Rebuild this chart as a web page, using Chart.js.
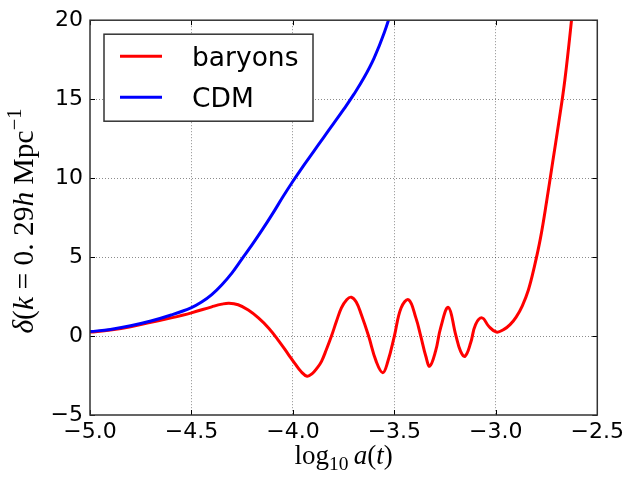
<!DOCTYPE html>
<html>
<head>
<meta charset="utf-8">
<script src="https://cdn.jsdelivr.net/npm/chart.js@4.4.0/dist/chart.umd.min.js"></script>
<style>
html,body{margin:0;padding:0;background:#fff;}
#wrap{width:628px;height:480px;position:relative;}
</style>
</head>
<body>
<div id="wrap"><canvas id="c" width="628" height="480"></canvas></div>
<script>
// ---- data ----
const seriesNames = ['baryons', 'CDM'];
const seriesColors = ['#ff0000', '#0000ff'];

const baryonX = [-5.0, -4.9, -4.8, -4.7, -4.6, -4.5, -4.4, -4.35, -4.315, -4.27, -4.22, -4.17, -4.119, -4.07, -4.022, -3.99, -3.96, -3.93, -3.905, -3.882, -3.859, -3.835, -3.81, -3.785, -3.761, -3.735, -3.712, -3.688, -3.663, -3.627, -3.59, -3.557, -3.532, -3.50, -3.467, -3.43, -3.394, -3.37, -3.345, -3.326, -3.297, -3.272, -3.234, -3.198, -3.174, -3.152, -3.124, -3.10, -3.068, -3.035, -2.997, -2.96, -2.93, -2.90, -2.87, -2.84, -2.81, -2.78, -2.75, -2.72, -2.69, -2.66, -2.627, -2.60];
const baryonY = [0.25, 0.38, 0.58, 0.87, 1.15, 1.47, 1.85, 2.02, 2.08, 1.98, 1.65, 1.15, 0.5, -0.3, -1.17, -1.75, -2.25, -2.54, -2.38, -2.05, -1.6, -0.85, 0.0, 0.95, 1.78, 2.3, 2.46, 2.15, 1.36, 0.0, -1.59, -2.32, -1.6, 0.0, 1.78, 2.3, 1.15, 0.0, -1.28, -1.91, -0.96, 0.52, 1.82, 0.09, -0.96, -1.28, -0.43, 0.73, 1.15, 0.62, 0.25, 0.42, 0.72, 1.2, 1.9, 2.9, 4.4, 6.2, 8.5, 11.0, 13.5, 16.2, 20.0, 23.5];

const cdmX = [-5.0, -4.9, -4.8, -4.7, -4.6, -4.5, -4.45, -4.4, -4.35, -4.3, -4.25, -4.2, -4.15, -4.1, -4.05, -4.0, -3.95, -3.9, -3.85, -3.8, -3.75, -3.7, -3.65, -3.6, -3.55, -3.50];
const cdmY = [0.28, 0.42, 0.65, 0.95, 1.33, 1.8, 2.15, 2.62, 3.25, 4.0, 4.9, 5.8, 6.75, 7.75, 8.8, 9.8, 10.75, 11.65, 12.55, 13.45, 14.35, 15.3, 16.35, 17.6, 19.2, 21.2];

const xTicks = [-5.0, -4.5, -4.0, -3.5, -3.0, -2.5];
const yTicks = [-5, 0, 5, 10, 15, 20];

// ---- text of the axis titles (mixed math styles) ----
const yTitleSegs = [['δ','italic',1,0],['(','',1,0],['k','italic',1,0],[' = ','',1,0],['0. 29','',1,0],['h','italic',1,0],[' Mpc','',1,0],['−1','',0.7,-0.42]];
const xTitleSegs = [['log','',1,0],['10','',0.72,0.22],['\u2009','',1,0],['a','italic',1,0],['(','',1,0],['t','italic',1,0],[')','',1,0]];

function fmtMinus(s){ return String(s).replace('-', '\u2212'); }

function segFont(st, size){ return (st ? st + ' ' : '') + size + 'px "Liberation Serif"'; }
function measureSegs(ctx, segs, size){
  let w = 0;
  segs.forEach(s => { ctx.font = segFont(s[1], size * s[2]); w += ctx.measureText(s[0]).width; });
  return w;
}
function drawSegs(ctx, segs, x, y, size){
  let cx = x;
  segs.forEach(s => {
    ctx.font = segFont(s[1], size * s[2]);
    ctx.fillText(s[0], cx, y + s[3] * size);
    cx += ctx.measureText(s[0]).width;
  });
}

const deco = {
  id: 'deco',
  afterDatasetsDraw(chart){
    const {ctx, chartArea: a, scales} = chart;
    const x = scales.x, y = scales.y;
    ctx.save();
    ctx.strokeStyle = '#000';
    ctx.lineWidth = 1;
    ctx.beginPath();
    xTicks.forEach(v => {
      const px = Math.round(x.getPixelForValue(v)) + 0.5;
      ctx.moveTo(px, a.bottom); ctx.lineTo(px, a.bottom - 5);
      ctx.moveTo(px, a.top); ctx.lineTo(px, a.top + 5);
    });
    yTicks.forEach(v => {
      const py = Math.round(y.getPixelForValue(v)) + 0.5;
      ctx.moveTo(a.left, py); ctx.lineTo(a.left + 5, py);
      ctx.moveTo(a.right, py); ctx.lineTo(a.right - 5, py);
    });
    ctx.stroke();
    ctx.strokeStyle = '#333';
    ctx.lineWidth = 1.5;
    ctx.strokeRect(a.left, a.top, a.right - a.left, a.bottom - a.top);
    ctx.restore();
  },
  afterDraw(chart){
    const {ctx, chartArea: a} = chart;
    ctx.save();
    // legend
    const L = {x: a.left + 14, y: a.top + 14, w: 209, h: 87};
    ctx.fillStyle = '#fff';
    ctx.fillRect(L.x, L.y, L.w, L.h);
    ctx.strokeStyle = '#333';
    ctx.lineWidth = 1.5;
    ctx.strokeRect(L.x, L.y, L.w, L.h);
    seriesNames.forEach((name, i) => {
      const ly = L.y + 22 + i * 41;
      ctx.strokeStyle = seriesColors[i];
      ctx.lineWidth = 3;
      ctx.beginPath();
      ctx.moveTo(L.x + 16, ly); ctx.lineTo(L.x + 58, ly);
      ctx.stroke();
      ctx.fillStyle = '#000';
      ctx.font = '26.5px "DejaVu Sans"';
      ctx.textBaseline = 'alphabetic';
      ctx.textAlign = 'left';
      ctx.fillText(name, L.x + 88, ly + 10);
    });
    // x title
    ctx.fillStyle = '#000';
    ctx.textAlign = 'left';
    ctx.textBaseline = 'alphabetic';
    const xs = 27;
    const xw = measureSegs(ctx, xTitleSegs, xs);
    drawSegs(ctx, xTitleSegs, (a.left + a.right) / 2 - xw / 2, 464, xs);
    // y title
    const ys = 29.5;
    const yw = measureSegs(ctx, yTitleSegs, ys);
    ctx.translate(33, 221);
    ctx.rotate(-Math.PI / 2);
    drawSegs(ctx, yTitleSegs, -yw / 2, 0, ys);
    ctx.restore();
  }
};

const gridColor = (c) => {
  const v = c.tick ? c.tick.value : null;
  if (v === null) return 'rgba(0,0,0,0)';
  const s = c.scale;
  if (Math.abs(v - s.min) < 1e-9 || Math.abs(v - s.max) < 1e-9) return 'rgba(0,0,0,0)';
  return 'rgba(0,0,0,0.45)';
};

const tickFont = {family: '"DejaVu Sans"', size: 22};

new Chart(document.getElementById('c'), {
  type: 'scatter',
  data: {
    datasets: [
      {
        label: seriesNames[0],
        data: baryonX.map((v, i) => ({x: v, y: baryonY[i]})),
        borderColor: seriesColors[0],
        backgroundColor: seriesColors[0],
        showLine: true, pointRadius: 0, borderWidth: 3,
        tension: 0.4,
        clip: 0, order: 2
      },
      {
        label: seriesNames[1],
        data: cdmX.map((v, i) => ({x: v, y: cdmY[i]})),
        borderColor: seriesColors[1],
        backgroundColor: seriesColors[1],
        showLine: true, pointRadius: 0, borderWidth: 3,
        tension: 0.4,
        clip: 0, order: 1
      }
    ]
  },
  options: {
    responsive: false,
    animation: false,
    events: [],
    layout: {padding: {left: 0, right: 27, top: 20, bottom: 0}},
    plugins: {legend: {display: false}, tooltip: {enabled: false}, title: {display: false}},
    scales: {
      x: {
        type: 'linear', min: -5, max: -2.5,
        afterBuildTicks: s => { s.ticks = xTicks.map(v => ({value: v})); },
        afterFit: s => { s.height = 65; },
        ticks: {
          font: tickFont, color: '#000', padding: 4, maxRotation: 0,
          callback: v => fmtMinus(Number(v).toFixed(1))
        },
        grid: {color: gridColor, lineWidth: 1, drawTicks: false},
        border: {display: false, dash: [1, 2]}
      },
      y: {
        type: 'linear', min: -5, max: 20,
        afterBuildTicks: s => { s.ticks = yTicks.map(v => ({value: v})); },
        afterFit: s => { s.width = 90; },
        ticks: {
          font: tickFont, color: '#000', padding: 7,
          callback: v => fmtMinus(v)
        },
        grid: {color: gridColor, lineWidth: 1, drawTicks: false},
        border: {display: false, dash: [1, 2]}
      }
    }
  },
  plugins: [deco]
});
</script>
</body>
</html>
